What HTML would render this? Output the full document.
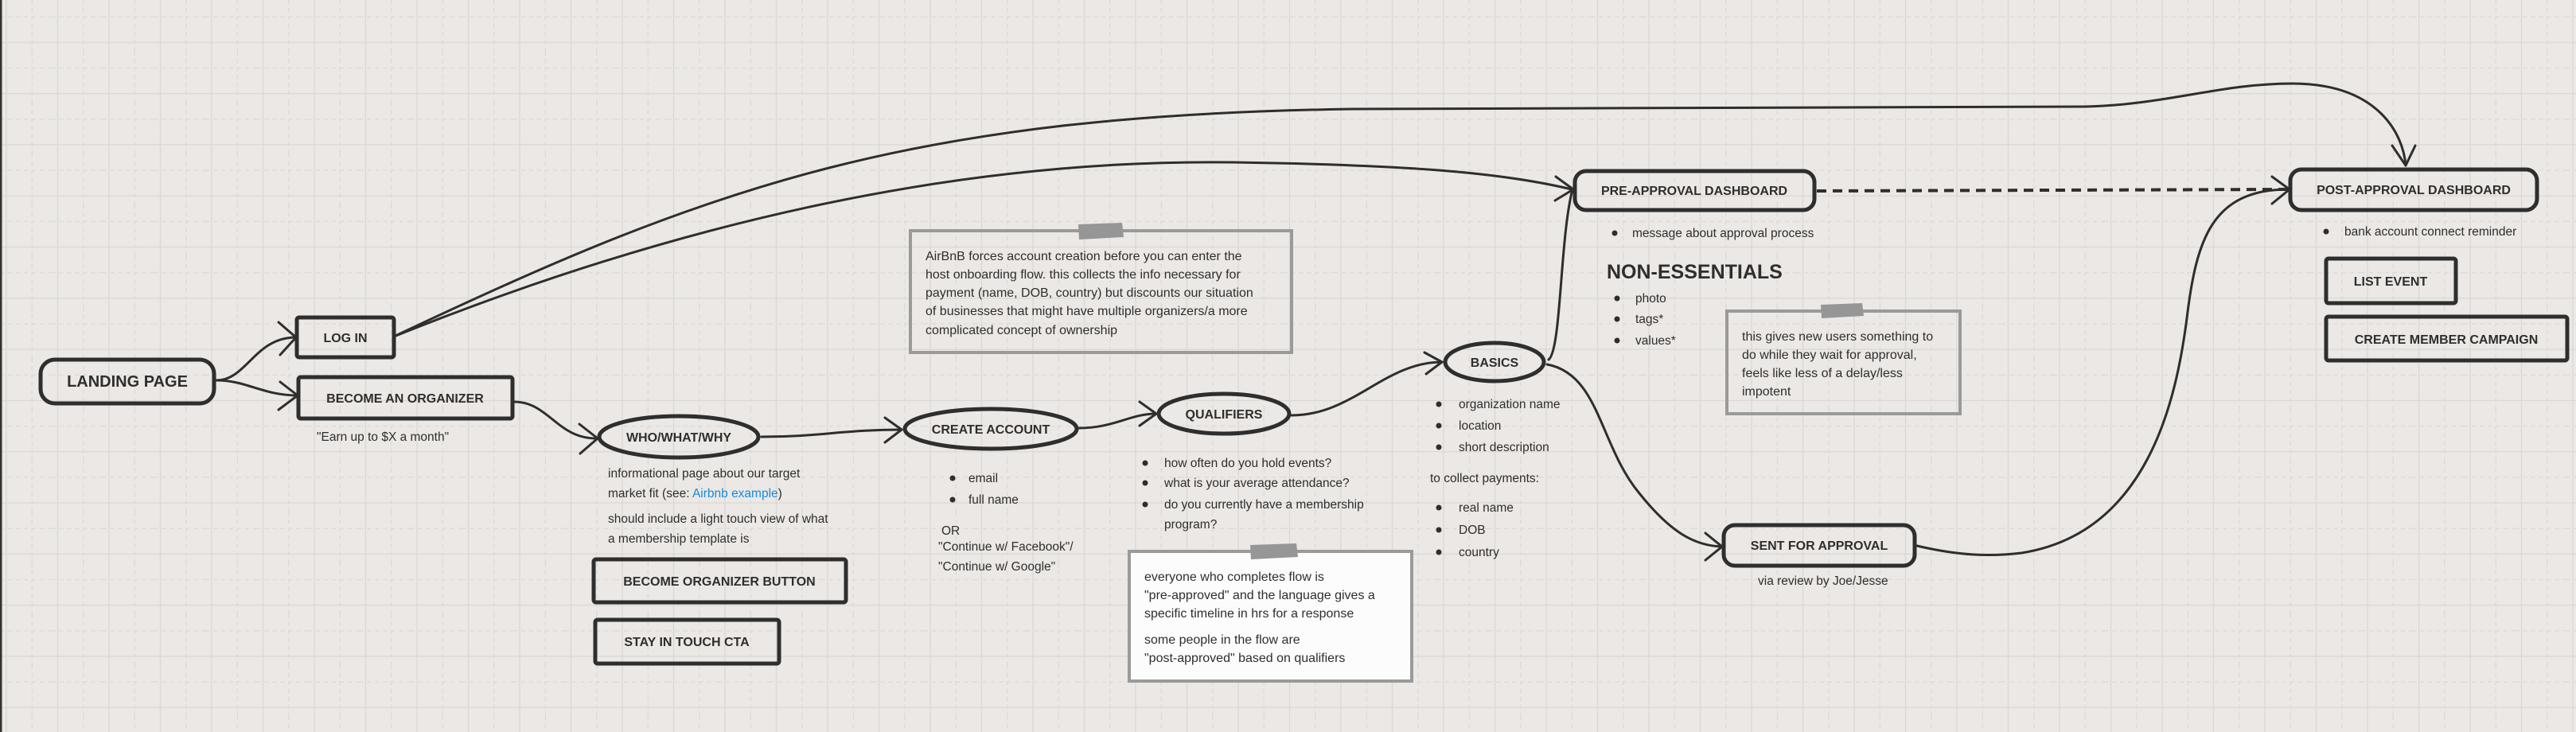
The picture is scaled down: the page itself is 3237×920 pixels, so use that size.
<!DOCTYPE html>
<html><head><meta charset="utf-8"><style>
html,body{margin:0;padding:0;}
body{width:3237px;height:920px;overflow:hidden;background:#ebe8e5;}
svg{display:block;}
text{font-family:"Liberation Sans",Arial,sans-serif;fill:#2e2e2e;}
.b{font-weight:bold;font-size:16px;}
.t{font-size:15.5px;}
.n{font-size:16px;}
</style></head><body>
<svg width="3237" height="920" xmlns="http://www.w3.org/2000/svg">
<defs>
<pattern id="g" x="0" y="0" width="64.5" height="64.3" patternUnits="userSpaceOnUse">
<line x1="8" y1="0" x2="8" y2="64.3" stroke="#dad7d4" stroke-width="1.3"/>
<line x1="40.3" y1="0" x2="40.3" y2="64.3" stroke="#dcd9d6" stroke-width="1.3" stroke-dasharray="5 5"/>
<line x1="0" y1="53.3" x2="64.5" y2="53.3" stroke="#dad7d4" stroke-width="1.3"/>
<line x1="0" y1="21.2" x2="64.5" y2="21.2" stroke="#dcd9d6" stroke-width="1.3" stroke-dasharray="5 5"/>
</pattern>
</defs>
<rect width="3237" height="920" fill="url(#g)"/>
<rect x="0" y="0" width="2.5" height="920" fill="#333"/>

<g fill="none" stroke="#2e2e2e" stroke-width="3" stroke-linecap="round" stroke-linejoin="round">
<path d="M272,478 C 310,478 320,424 372,424"/>
<polyline points="350,405 372,424 352,446"/>
<path d="M272,478 C 310,478 330,497 374,497"/>
<polyline points="352,480 374,497 350,515"/>
<path d="M495,423 C 900,230 1150,145 1700,137 L 2620,134 C 2720,132 2790,105 2880,105 C 2990,105 3020,170 3023,208"/>
<polyline points="3006,183 3023,208 3035,183"/>
<path d="M495,423 C 900,260 1250,200 1550,204 C 1750,207 1880,215 1975,238"/>
<polyline points="1955,222 1977,238 1954,252"/>
<path d="M646,505 C 690,505 700,552 751,551"/>
<polyline points="728,533 751,551 729,570"/>
<path d="M957,549 C 1030,549 1060,540 1133,540"/>
<polyline points="1112,525 1133,540 1112,556"/>
<path d="M1356,538 C 1400,538 1420,520 1453,520"/>
<polyline points="1432,505 1453,520 1432,535"/>
<path d="M1623,522 C 1700,522 1740,455 1812,455"/>
<polyline points="1790,443 1812,455 1792,470"/>
<path d="M1946,452 C 1962,440 1960,300 1976,238"/>
<path d="M1944,458 C 2010,470 2010,560 2060,620 C 2100,670 2130,686 2164,687"/>
<polyline points="2143,670 2164,687 2143,704"/>
<path d="M2283,240 L 2875,238" stroke-dasharray="12 8" stroke-width="4" stroke-linecap="butt"/>
<polyline points="2855,222 2877,238 2855,256"/>
<path d="M2409,686 C 2460,698 2500,700 2540,695 C 2700,670 2735,500 2748,400 C 2760,300 2780,238 2876,238"/>
</g>

<g fill="none" stroke="#2e2e2e" stroke-width="5">
<rect x="51" y="452" width="218" height="55" rx="18"/>
<rect x="373" y="399" width="122" height="50" rx="3"/>
<rect x="375" y="474" width="269" height="52" rx="3"/>
<ellipse cx="853" cy="549" rx="100" ry="26"/>
<rect x="746" y="703" width="317" height="54" rx="3"/>
<rect x="748" y="779" width="231" height="55" rx="3"/>
<ellipse cx="1245" cy="539" rx="108" ry="25"/>
<ellipse cx="1538" cy="520" rx="82" ry="25"/>
<ellipse cx="1878" cy="455" rx="62" ry="24"/>
<rect x="1979" y="215" width="301" height="49" rx="14"/>
<rect x="2166" y="660" width="240" height="51" rx="14"/>
<rect x="2878" y="213" width="310" height="51" rx="14"/>
<rect x="2923" y="325" width="163" height="56" rx="3"/>
<rect x="2923" y="398" width="303" height="55" rx="3"/>
</g>

<g stroke="#9a9a9a" stroke-width="4">
<rect x="1144" y="290" width="479" height="153" fill="none"/>
<rect x="1419" y="693" width="355" height="163" fill="#fcfcfc"/>
<rect x="2170" y="391" width="293" height="129" fill="none"/>
</g>
<g fill="#969696">
<polygon points="1355,282 1410,280 1412,298 1356,301"/>
<polygon points="1571,685 1629,683 1631,700 1572,703"/>
<polygon points="2288,383 2340,381 2342,397 2289,400"/>
</g>

<text x="160" y="486" text-anchor="middle" style="font-size:20px;font-weight:bold">LANDING PAGE</text>
<text x="434" y="430" class="b" text-anchor="middle">LOG IN</text>
<text x="509" y="506" class="b" text-anchor="middle">BECOME AN ORGANIZER</text>
<text x="853" y="555" class="b" text-anchor="middle">WHO/WHAT/WHY</text>
<text x="904" y="736" class="b" text-anchor="middle">BECOME ORGANIZER BUTTON</text>
<text x="863" y="812" class="b" text-anchor="middle">STAY IN TOUCH CTA</text>
<text x="1245" y="545" class="b" text-anchor="middle">CREATE ACCOUNT</text>
<text x="1538" y="526" class="b" text-anchor="middle">QUALIFIERS</text>
<text x="1878" y="461" class="b" text-anchor="middle">BASICS</text>
<text x="2129" y="245" class="b" text-anchor="middle">PRE-APPROVAL DASHBOARD</text>
<text x="2286" y="691" class="b" text-anchor="middle">SENT FOR APPROVAL</text>
<text x="3033" y="244" class="b" text-anchor="middle">POST-APPROVAL DASHBOARD</text>
<text x="3004" y="359" class="b" text-anchor="middle">LIST EVENT</text>
<text x="3074" y="432" class="b" text-anchor="middle">CREATE MEMBER CAMPAIGN</text>

<g fill="#2e2e2e">
<circle cx="1197" cy="601" r="3.5"/><circle cx="1197" cy="628" r="3.5"/>
<circle cx="1439" cy="582" r="3.5"/><circle cx="1439" cy="607" r="3.5"/><circle cx="1439" cy="634" r="3.5"/>
<circle cx="1808" cy="508" r="3.5"/><circle cx="1808" cy="535" r="3.5"/><circle cx="1808" cy="562" r="3.5"/>
<circle cx="1808" cy="638" r="3.5"/><circle cx="1808" cy="666" r="3.5"/><circle cx="1808" cy="694" r="3.5"/>
<circle cx="2029" cy="293" r="3.5"/>
<circle cx="2032" cy="375" r="3.5"/><circle cx="2032" cy="401" r="3.5"/><circle cx="2032" cy="428" r="3.5"/>
<circle cx="2923" cy="291" r="3.5"/>
</g>

<text x="398" y="554" class="t">"Earn up to $X a month"</text>
<text x="764" y="600" class="t">informational page about our target</text>
<text x="764" y="625" class="t">market fit (see: <tspan style="fill:#1a8ad8">Airbnb example</tspan>)</text>
<text x="764" y="657" class="t">should include a light touch view of what</text>
<text x="764" y="682" class="t">a membership template is</text>

<text x="1163" y="327" class="n">AirBnB forces account creation before you can enter the</text>
<text x="1163" y="350" class="n">host onboarding flow. this collects the info necessary for</text>
<text x="1163" y="373" class="n">payment (name, DOB, country) but discounts our situation</text>
<text x="1163" y="396" class="n">of businesses that might have multiple organizers/a more</text>
<text x="1163" y="420" class="n">complicated concept of ownership</text>

<text x="1217" y="606" class="t">email</text>
<text x="1217" y="633" class="t">full name</text>
<text x="1183" y="672" class="t">OR</text>
<text x="1179" y="692" class="t">"Continue w/ Facebook"/</text>
<text x="1179" y="717" class="t">"Continue w/ Google"</text>

<text x="1463" y="587" class="t">how often do you hold events?</text>
<text x="1463" y="612" class="t">what is your average attendance?</text>
<text x="1463" y="639" class="t">do you currently have a membership</text>
<text x="1463" y="664" class="t">program?</text>

<text x="1438" y="730" class="n">everyone who completes flow is</text>
<text x="1438" y="753" class="n">"pre-approved" and the language gives a</text>
<text x="1438" y="776" class="n">specific timeline in hrs for a response</text>
<text x="1438" y="809" class="n">some people in the flow are</text>
<text x="1438" y="832" class="n">"post-approved" based on qualifiers</text>

<text x="1833" y="513" class="t">organization name</text>
<text x="1833" y="540" class="t">location</text>
<text x="1833" y="567" class="t">short description</text>
<text x="1797" y="606" class="t">to collect payments:</text>
<text x="1833" y="643" class="t">real name</text>
<text x="1833" y="671" class="t">DOB</text>
<text x="1833" y="699" class="t">country</text>

<text x="2051" y="298" class="t">message about approval process</text>
<text x="2019" y="350" style="font-weight:bold;font-size:25px">NON-ESSENTIALS</text>
<text x="2055" y="380" class="t">photo</text>
<text x="2055" y="406" class="t">tags*</text>
<text x="2055" y="433" class="t">values*</text>

<text x="2189" y="428" class="n">this gives new users something to</text>
<text x="2189" y="451" class="n">do while they wait for approval,</text>
<text x="2189" y="474" class="n">feels like less of a delay/less</text>
<text x="2189" y="497" class="n">impotent</text>

<text x="2209" y="735" class="t">via review by Joe/Jesse</text>
<text x="2946" y="296" class="t">bank account connect reminder</text>
</svg>
</body></html>
